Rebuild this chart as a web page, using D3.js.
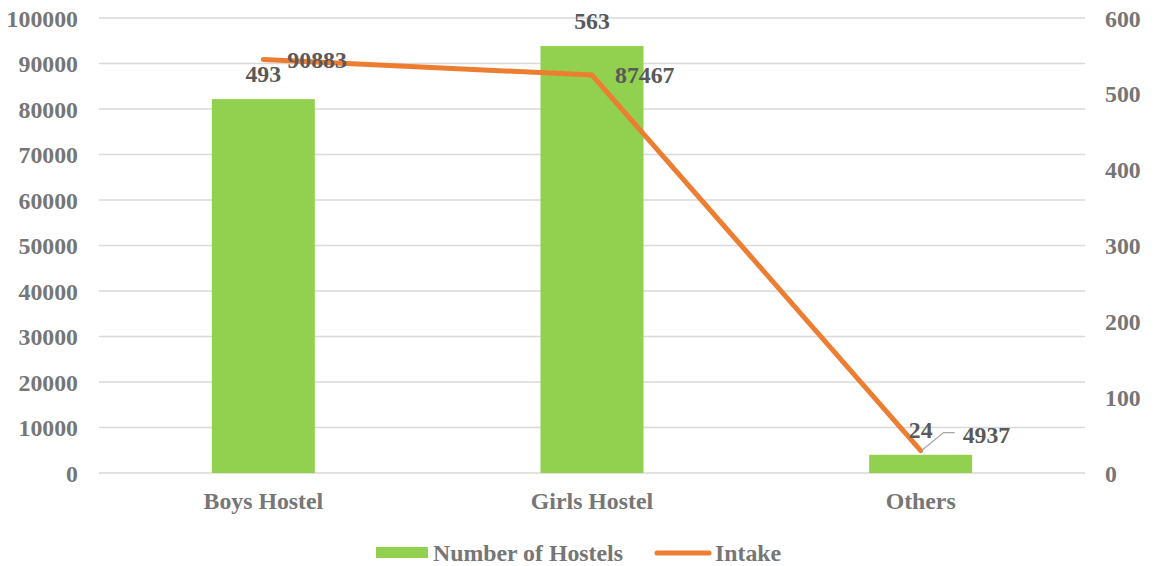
<!DOCTYPE html>
<html>
<head>
<meta charset="utf-8">
<script src="https://cdn.jsdelivr.net/npm/d3@7"></script>
<style>
  html, body { margin: 0; padding: 0; background: #fff; }
  svg { display: block; }
  text { font-family: "Liberation Serif", "Times New Roman", serif; font-weight: bold; }
</style>
</head>
<body>
<svg id="chart" width="1157" height="566"></svg>
<script>
const categories = ["Boys Hostel", "Girls Hostel", "Others"];
const hostels = [493, 563, 24];          // bars, right axis
const intake = [90883, 87467, 4937];     // line, left axis
const leftTicks = [0, 10000, 20000, 30000, 40000, 50000, 60000, 70000, 80000, 90000, 100000];
const rightTicks = [0, 100, 200, 300, 400, 500, 600];
const seriesNames = ["Number of Hostels", "Intake"];

const W = 1157, H = 566;
const plot = { left: 99, right: 1085, top: 18, bottom: 473 };
const green = "#92D050", orange = "#ED7D31";
const axisColor = "#767676", labelColor = "#595959", gridColor = "#d9d9d9";
const fs = 23.8;

const svg = d3.select("#chart");

const x = d3.scaleBand().domain(categories).range([plot.left, plot.right]).paddingInner(0).paddingOuter(0);
const yL = d3.scaleLinear().domain([0, 100000]).range([plot.bottom, plot.top]);
const yR = d3.scaleLinear().domain([0, 600]).range([plot.bottom, plot.top]);

// gridlines
svg.append("g").selectAll("line").data(leftTicks).join("line")
  .attr("x1", plot.left).attr("x2", plot.right)
  .attr("y1", d => yL(d)).attr("y2", d => yL(d))
  .attr("stroke", gridColor).attr("stroke-width", 1.3);

// left axis
const gl = svg.append("g").attr("transform", `translate(${plot.left - 21},0)`)
  .call(d3.axisLeft(yL).tickValues(leftTicks).tickSize(0).tickPadding(0).tickFormat(d3.format("d")));
gl.select(".domain").remove();
gl.selectAll("text").attr("fill", axisColor).style("font-size", fs + "px").attr("dy", "0.34em");

// right axis
const gr = svg.append("g").attr("transform", `translate(${plot.right + 20},0)`)
  .call(d3.axisRight(yR).tickValues(rightTicks).tickSize(0).tickPadding(0).tickFormat(d3.format("d")));
gr.select(".domain").remove();
gr.selectAll("text").attr("fill", axisColor).style("font-size", fs + "px").attr("dy", "0.34em");

// bottom axis
const gb = svg.append("g").attr("transform", `translate(0,${plot.bottom})`)
  .call(d3.axisBottom(x).tickSize(0).tickPadding(0));
gb.select(".domain").remove();
gb.selectAll("text").attr("fill", axisColor).style("font-size", fs + "px").attr("dy", "36px");

// bars
const barW = 103;
svg.append("g").selectAll("rect").data(categories).join("rect")
  .attr("x", d => x(d) + x.bandwidth() / 2 - barW / 2)
  .attr("width", barW)
  .attr("y", (d, i) => yR(hostels[i]))
  .attr("height", (d, i) => yR(0) - yR(hostels[i]))
  .attr("fill", green);

// line
const pts = categories.map((c, i) => [x(c) + x.bandwidth() / 2, yL(intake[i])]);
svg.append("path")
  .attr("d", d3.line()(pts))
  .attr("fill", "none").attr("stroke", orange).attr("stroke-width", 5)
  .attr("stroke-linecap", "round").attr("stroke-linejoin", "round");

// bar labels
svg.append("g").selectAll("text").data(categories).join("text")
  .attr("x", d => x(d) + x.bandwidth() / 2)
  .attr("y", (d, i) => yR(hostels[i]) - 17)
  .attr("text-anchor", "middle")
  .attr("fill", labelColor).style("font-size", fs + "px")
  .text((d, i) => hostels[i]);

// line labels
const offsets = [[24, 9], [23, 8], [42, -7.5]];
svg.append("g").selectAll("text").data(pts).join("text")
  .attr("x", (p, i) => p[0] + offsets[i][0])
  .attr("y", (p, i) => p[1] + offsets[i][1])
  .attr("fill", labelColor).style("font-size", fs + "px")
  .text((p, i) => intake[i]);

// leader line for last label
const lp = pts[2];
svg.append("path")
  .attr("d", `M${lp[0] + 1},${lp[1]} L${lp[0] + 23},${lp[1] - 18} L${lp[0] + 34},${lp[1] - 18}`)
  .attr("fill", "none").attr("stroke", "#a6a6a6").attr("stroke-width", 1.3);

// legend
const lg = svg.append("g");
lg.append("rect").attr("x", 376).attr("y", 547).attr("width", 52).attr("height", 11).attr("fill", green);
lg.append("text").attr("x", 433).attr("y", 561).attr("fill", axisColor).style("font-size", fs + "px").text(seriesNames[0]);
lg.append("line").attr("x1", 657).attr("x2", 709).attr("y1", 553).attr("y2", 553)
  .attr("stroke", orange).attr("stroke-width", 5).attr("stroke-linecap", "round");
lg.append("text").attr("x", 715).attr("y", 561).attr("fill", axisColor).style("font-size", fs + "px").text(seriesNames[1]);
</script>
</body>
</html>
